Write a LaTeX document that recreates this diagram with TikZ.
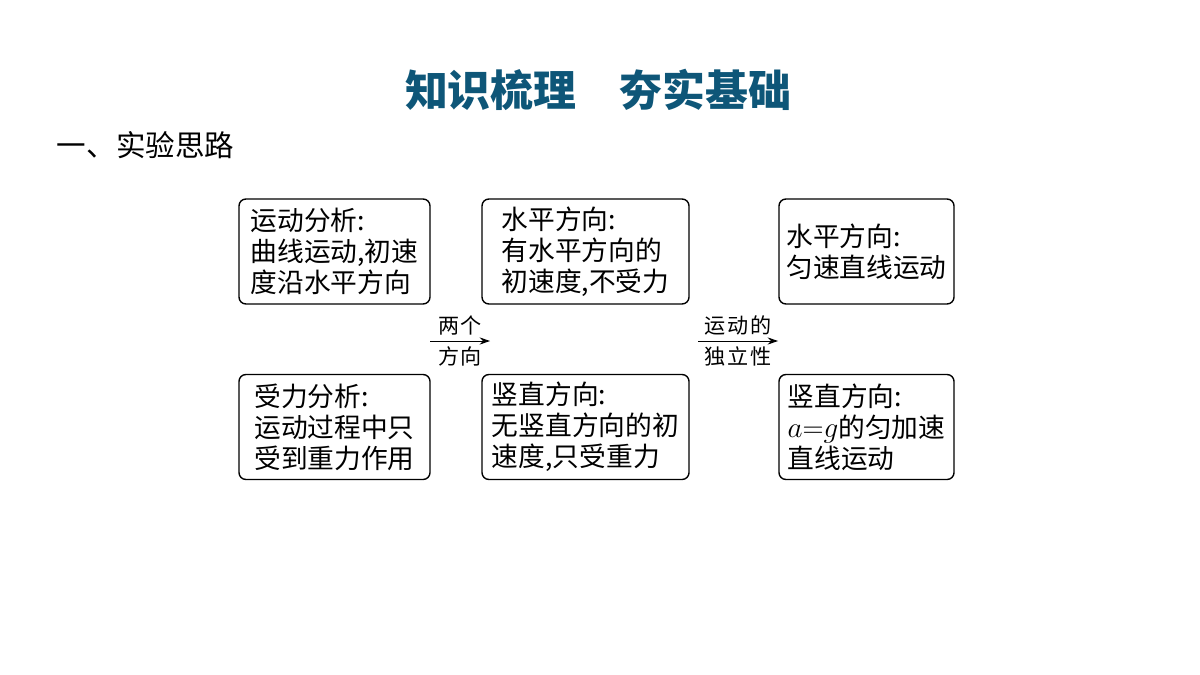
\documentclass[tikz,border=0pt]{standalone}
\usepackage{fontspec}
\setmainfont{Noto Sans CJK SC}
\newfontfamily\labelfont[LetterSpace=8]{Noto Sans CJK SC}
\usetikzlibrary{arrows.meta, positioning}
\definecolor{titleblue}{RGB}{14,86,120}

\begin{document}
\begin{tikzpicture}[
        x=0.025cm, y=-0.025cm,
        block/.style={rectangle, draw, line width=1pt, rounded corners=5pt, minimum height=2.625cm, inner sep=0pt, align=left, font=\fontsize{19}{22}\selectfont},
        arrow/.style={-{Stealth[length=2.6mm, width=1.8mm]}, line width=0.7pt},
        label/.style={font=\labelfont\fontsize{15}{18}\selectfont, inner sep=3.5pt}
    ]
        \useasboundingbox (0,0) rectangle (1200,675);
        \node[text=titleblue, font=\fontsize{30.5}{36}\selectfont\bfseries] (title) at (598,90) {知识梳理　夯实基础};
        \node[anchor=west, font=\fontsize{21}{25}\selectfont] (head) at (52,145) {一、实验思路};
        % left column
        \node[block, minimum width=4.775cm] (motion) at (334.5,251.5) {运动分析:\\曲线运动,初速\\度沿水平方向};
        \node[block, minimum width=4.775cm] (force) at (334.5,427) {受力分析:\\运动过程中只\\受到重力作用};
        % middle column
        \node[block, minimum width=5.175cm] (hdir) at (585.5,251.5) {水平方向:\\有水平方向的\\初速度,不受力};
        \node[block, minimum width=5.175cm] (vdir) at (585.5,427) {竖直方向:\\无竖直方向的初\\速度,只受重力};
        % right column
        \node[block, minimum width=4.375cm] (hmove) at (866.5,251.5) {水平方向:\\匀速直线运动};
        \node[block, minimum width=4.375cm] (vmove) at (866.5,427) {竖直方向:\\{\fontsize{22}{22}\selectfont$a{=}g$}的匀加速\\直线运动};
        % arrows between columns
        \coordinate (split) at (430,341);
        \coordinate (splitend) at (490,341);
        \coordinate (indep) at (698,341);
        \coordinate (independ) at (778,341);
        \draw[arrow] (split) -- node[above, label] {两个} node[below, label] {方向} (splitend);
        \draw[arrow] (indep) -- node[above, label] {运动的} node[below, label] {独立性} (independ);
    \end{tikzpicture}
\end{document}
